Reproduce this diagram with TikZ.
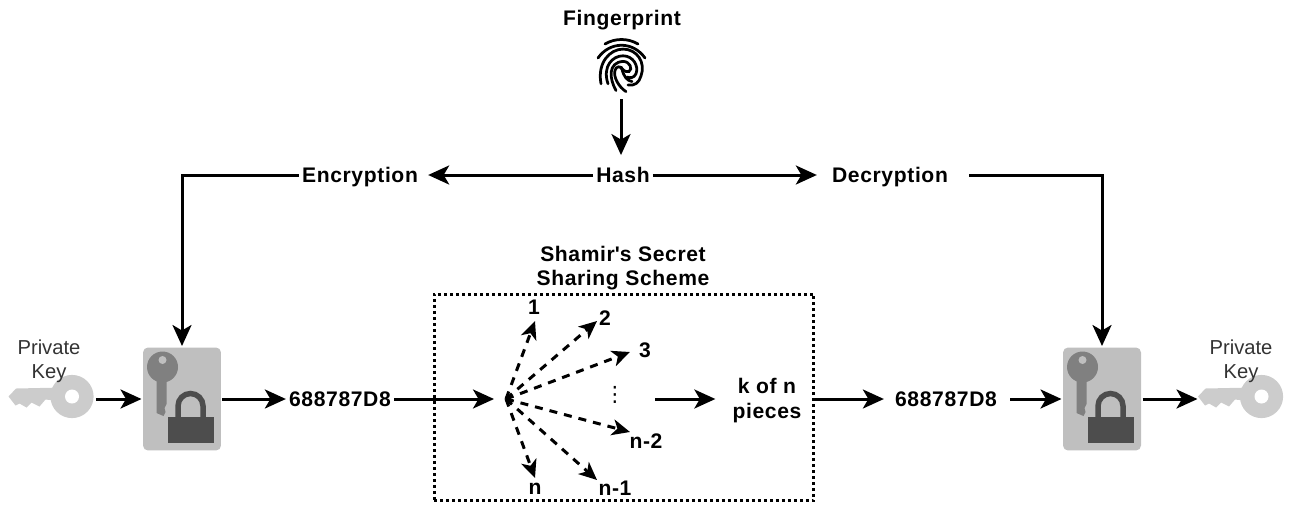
\documentclass[tikz,border=0pt]{standalone}
\usepackage{fontspec}
\setmainfont{Liberation Sans}
\newfontfamily\symfont{DejaVu Sans}
\usetikzlibrary{arrows.meta,positioning}
\definecolor{keylight}{HTML}{CCCCCC}
\definecolor{lockbg}{HTML}{BFBFBF}
\definecolor{keydark}{HTML}{808080}
\definecolor{lockdark}{HTML}{4D4D4D}
\tikzset{
  label/.style={font=\bfseries\fontsize{12}{14}\selectfont\addfontfeature{LetterSpace=3}, align=center, inner sep=1pt, text height=9.5pt, text depth=1.5pt},
  twolines/.style={label, text height=, text depth=},
  small/.style={font=\fontsize{11.5}{13.5}\selectfont, text=black!80, align=center, inner sep=0pt},
  lockbox/.style={fill=lockbg, rounded corners=0.1cm, minimum width=1.56cm, minimum height=2.06cm, inner sep=0pt},
  keybox/.style={minimum width=1.7cm, minimum height=0.88cm, inner sep=0pt},
  spoke/.style={->, dash pattern=on 0.16cm off 0.14cm, >={Stealth[length=0.36cm,width=0.32cm,inset=0.1cm]}}
}
% Chiave chiara, origine in alto a sinistra del nodo
\newcommand{\keyicon}[1]{
  \begin{scope}[shift={(#1.north west)}]
    \fill[keylight] (0.5,21) -- (8,13) -- (55,12) -- (55,26) -- (37.5,24) -- (31.5,31) -- (23.5,27) -- (18.5,32) -- (11.5,28) -- (7.5,30) -- cycle;
    \fill[keylight] (64,21) circle (21.6);
    \fill[white] (64,21) circle (7);
  \end{scope}
}
% Chiave scura e lucchetto sopra il blocco grigio
\newcommand{\lockicon}[1]{
  \begin{scope}[shift={(#1.north west)}]
    \fill[keydark] (15,20) -- (25,20) -- (25,58) -- (23,62) -- (24,66) -- (22,70) -- (15,67) -- cycle;
    \fill[keydark] (21,21) circle (15.5);
    \fill[lockbg] (21,14) circle (4);
    \draw[lockdark, line width=0.11cm] (36.5,72) -- (36.5,60) arc (180:360:12.5) -- (61.5,72);
    \fill[lockdark] (26,71) rectangle (72,97);
  \end{scope}
}
\begin{document}
\begin{tikzpicture}[x=0.02cm, y=-0.02cm, line width=0.06cm, >={Stealth[length=0.42cm,width=0.38cm,inset=0.11cm]}]
  \useasboundingbox (0,0) rectangle (1298,504);

  % Impronta e hash
  \node[label] (fingerprint) at (622,18) {Fingerprint};
  \node[minimum size=1cm, inner sep=0pt] (print) at (621,67) {};
  \begin{scope}[shift={(621,67)}, line width=0.055cm, line cap=round]
    \draw (-16,-23) .. controls (-6,-29) and (7,-29) .. (17,-23);
    \draw (-23,-9) .. controls (-11,-26) and (12,-26) .. (24,-9);
    \begin{scope}[yscale=1.12]
      \draw (-20,15) .. controls (-24,-4) and (-11,-16) .. (2,-16) .. controls (16,-16) and (25,-4) .. (20,8) .. controls (18,14) and (14,17) .. (7,16);
      \draw (-13,15) .. controls (-19,-1) and (-8,-10) .. (2,-10) .. controls (12,-10) and (18,-1) .. (15,6) .. controls (13,10) and (9,10) .. (6,9);
      \draw (-5,21) .. controls (-12,10) and (-13,-4) .. (2,-5) .. controls (9,-5) and (12,2) .. (8,4) .. controls (4,5) and (1,2) .. (0,0);
      \draw (5,22) .. controls (-2,18) and (-8,9) .. (-6,3) .. controls (-5,-1) and (0,-1) .. (1,2) .. controls (3,9) and (6,12) .. (11,13);
    \end{scope}
  \end{scope}
  \node[label] (hash) at (623,175) {Hash};
  \node[label] (encryption) at (360,175) {Encryption};
  \node[label] (decryption) at (890,175) {Decryption};
  \draw[->] ([yshift=-0.12cm]print.south) -- ([yshift=0.14cm]print |- hash.north);
  \draw[->] (hash) -- ([xshift=0.14cm]encryption.east);
  \draw[->] (hash) -- ([xshift=-0.24cm]decryption.west);

  % Lato sinistro
  \node[keybox] (keyL) at (52,399) {};
  \keyicon{keyL}
  \node[small] (privL) at (49,361) {Private\\Key};
  \node[lockbox] (lockL) at (182,399) {};
  \lockicon{lockL}
  \node[label] (codeL) at (340,399) {688787D8};
  \draw[->] (keyL) -- (lockL);
  \draw[->] (lockL) -- (codeL);
  \draw[->] (encryption.west) -| (lockL.north);

  % Schema di Shamir
  \node[draw, dash pattern=on 0.06cm off 0.06cm, minimum width=7.6cm, minimum height=4.14cm, inner sep=0pt] (sss) at (624,397.5) {};
  \node[twolines] (sssname) at (623,268) {Shamir{\textquotesingle}s Secret\\Sharing Scheme};
  \coordinate (hub) at (506,399);
  \draw[->] (codeL) -- ([xshift=-0.24cm]hub);
  \node[label] (p1) at (534,307) {1};
  \node[label] (p2) at (605,318) {2};
  \node[label] (p3) at (645,350) {3};
  \node[font=\symfont\fontsize{12}{14}\selectfont, inner sep=0pt] (pdots) at (615,395) {⋮};
  \node[label] (pn2) at (646,441) {n-2};
  \node[label] (pn1) at (615,488) {n-1};
  \node[label] (pn) at (535,487) {n};
  \coordinate (t1) at (535,321);
  \coordinate (t2) at (597,321);
  \coordinate (t3) at (630,352);
  \coordinate (tn2) at (630,432);
  \coordinate (tn1) at (597,480);
  \coordinate (tn) at (535,478);
  \foreach \t in {t1,t2,t3,tn2,tn1,tn}
    \draw[spoke] (hub) -- (\t);
  \node[twolines] (pieces) at (767,400.5) {k of n\\pieces};
  \coordinate (piecesin) at (655,399);
  \draw[->] (piecesin) -- ([xshift=-0.28cm]pieces.west |- piecesin);

  % Lato destro
  \node[label] (codeR) at (946,399) {688787D8};
  \node[lockbox] (lockR) at (1102,399) {};
  \lockicon{lockR}
  \node[keybox] (keyR) at (1241.5,399) {};
  \keyicon{keyR}
  \node[small] (privR) at (1241,361) {Private\\Key};
  \draw[->] (sss.east |- codeR) -- ([xshift=-0.16cm]codeR.west);
  \draw[->] ([xshift=0.2cm]codeR.east) -- (lockR);
  \draw[->] (lockR) -- (keyR);
  \draw[->] ([xshift=0.36cm]decryption.east) -| (lockR.north);
\end{tikzpicture}
\end{document}
